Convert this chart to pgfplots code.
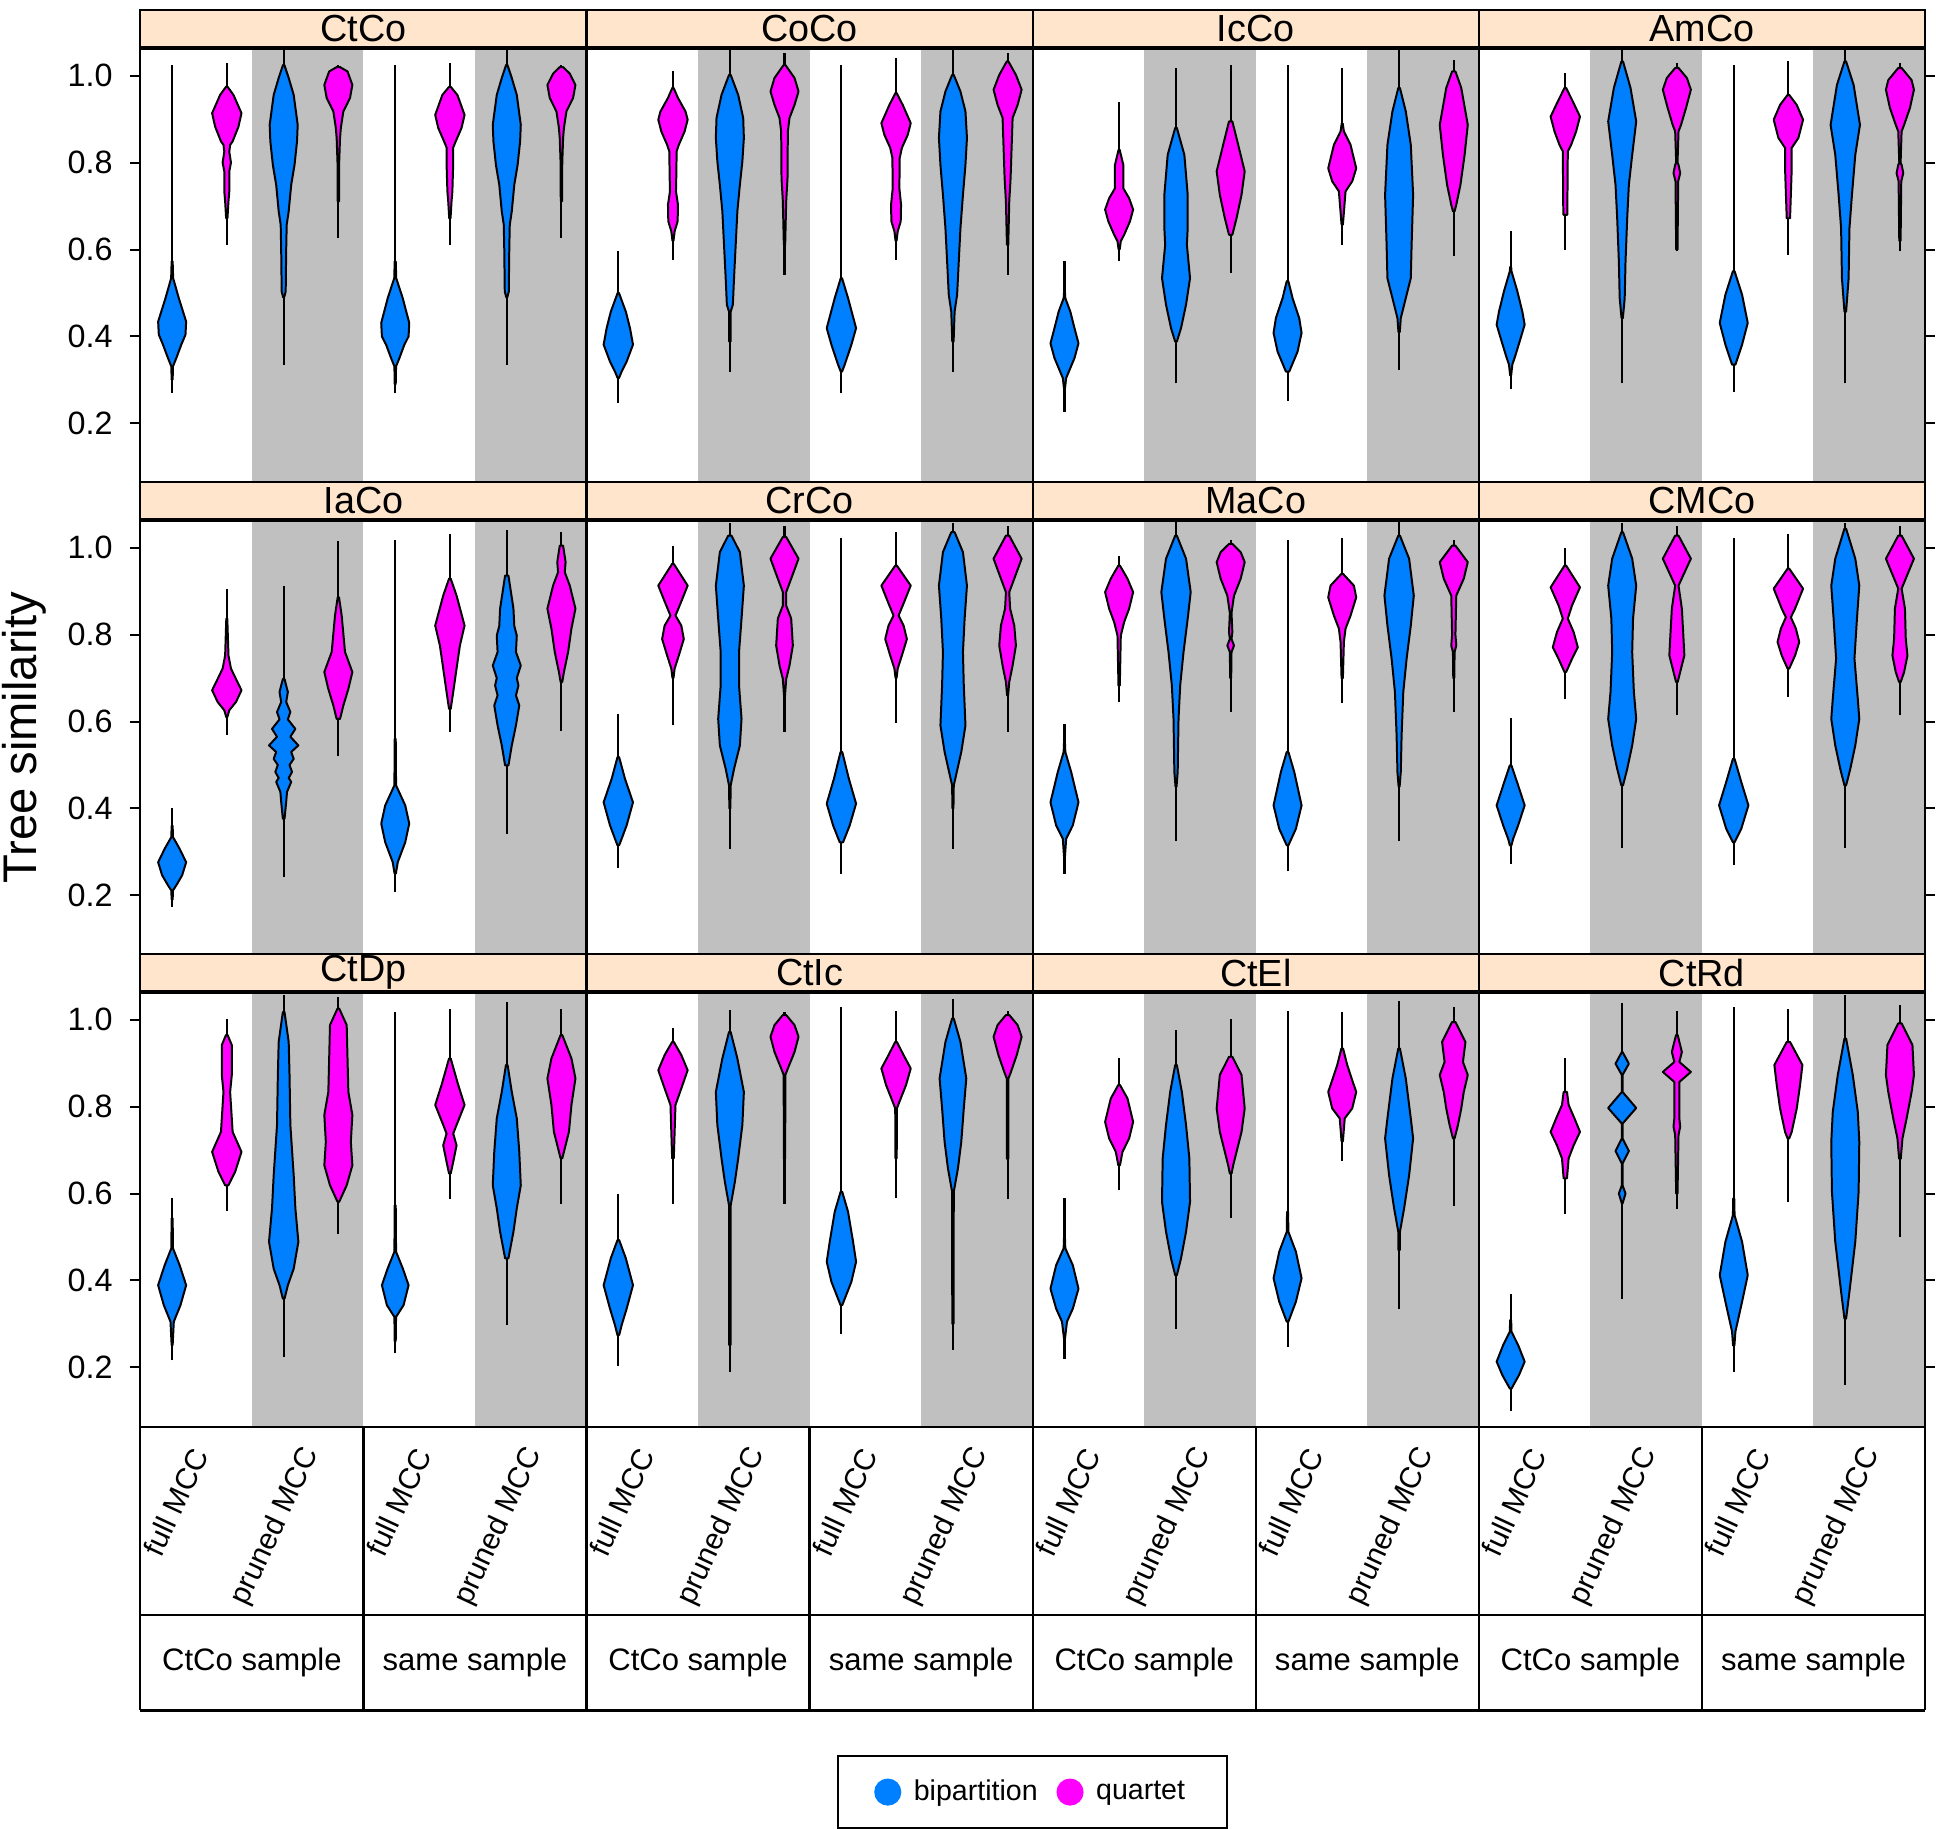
\documentclass[border=0pt]{standalone}
\usepackage{pgfplots}
\pgfplotsset{compat=1.18}
\usepgfplotslibrary{groupplots}
\usepackage{fontspec}
\setmainfont{Liberation Sans}
\definecolor{vblue}{HTML}{0080FF}
\definecolor{vmag}{HTML}{FF00FF}
\definecolor{greybg}{HTML}{C0C0C0}
\definecolor{stripbg}{HTML}{FFE5CC}

\def\vk{0.0015}
\newcommand\V[5]{%
  \pgfmathsetmacro\vc{#1}%
  \gdef\vR{}\gdef\vL{}%
  \foreach \yy/\ww in {#5}{%
    \pgfmathsetmacro\xr{\vc+\ww*\vk}%
    \pgfmathsetmacro\xl{\vc-\ww*\vk}%
    \xdef\vR{\vR(\xr,\yy)}%
    \xdef\vL{(\xl,\yy)\vL}%
  }%
  \edef\vcmd{%
    \noexpand\addplot[forget plot,line width=0.85pt,black] coordinates {(\vc,#3) (\vc,#4)};%
    \noexpand\addplot[forget plot,line width=0.8pt,line join=round,draw=black,fill=#2] coordinates {\vR\vL} -- cycle;%
  }%
  \vcmd
}
\newcommand\B[4]{\V{#1-0.215}{vblue}{#2}{#3}{#4}}
\newcommand\M[4]{\V{#1+0.275}{vmag}{#2}{#3}{#4}}
\newcommand\G{%
  \addplot[forget plot,fill=greybg,draw=none] coordinates {(1.5,0) (2.5,0) (2.5,1.2) (1.5,1.2)} -- cycle;
  \addplot[forget plot,fill=greybg,draw=none] coordinates {(3.5,0) (4.5,0) (4.5,1.2) (3.5,1.2)} -- cycle;
}
\newcommand\Deco{%
  \draw[line width=0.9pt] (axis description cs:0,0) -- ++(0pt,-114pt);
  \draw[line width=0.9pt] (axis description cs:0.5,0) -- ++(0pt,-114pt);
  \draw[line width=0.9pt] (axis description cs:1,0) -- ++(0pt,-114pt);
  \draw[line width=0.9pt] (axis description cs:0,0) ++(0pt,-75.5pt) -- ++(179.6pt,0pt);
  \draw[line width=0.9pt] (axis description cs:0,0) ++(0pt,-114pt) -- ++(179.6pt,0pt);
  \node[font=\fontsize{12.5}{12.5}\selectfont,yshift=-94.75pt] at (axis description cs:0.25,0) {CtCo sample};
  \node[font=\fontsize{12.5}{12.5}\selectfont,yshift=-94.75pt] at (axis description cs:0.75,0) {same sample};
}

\pgfplotsset{
  panel/.style={width=179.6pt,height=175pt,scale only axis,
    xmin=0.5,xmax=4.5,ymin=0.062,ymax=1.063,axis on top,
    axis line style={line width=0.9pt},xtick=\empty,ytick=\empty,
    tick align=outside,major tick length=4pt,tick style={line width=0.8pt,black},
    title style={at={(0.5,1)},anchor=south,yshift=-6pt,draw=black,line width=0.9pt,fill=stripbg,
      minimum width=179.6pt,minimum height=15pt,inner sep=0pt,
      font=\fontsize{15.2}{15.2}\selectfont}},
  leftcol/.style={ytick={0.2,0.4,0.6,0.8,1.0},yticklabels={0.2,0.4,0.6,0.8,1.0},ytick pos=left,
    yticklabel style={font=\fontsize{13}{13}\selectfont,inner sep=0pt,xshift=-7pt}},
  rightcol/.style={ytick={0.2,0.4,0.6,0.8,1.0},ytick pos=right,yticklabels={}},
  bottomrow/.style={xtick={1,2,3,4},xticklabels={full MCC,pruned MCC,full MCC,pruned MCC},
    xtick style={draw=none},
    xticklabel style={xshift=3pt,yshift=-2pt,rotate=65,anchor=east,font=\fontsize{12}{12}\selectfont},
    clip mode=individual},
}

\begin{document}
\begin{tikzpicture}
\begin{groupplot}[group style={group size=4 by 3,horizontal sep=0pt,vertical sep=15pt},panel]
% ---------------- row 1
\nextgroupplot[title=CtCo,leftcol]
\G
\B{1}{0.269}{1.024}{0.573/3,0.534/6,0.488/40,0.434/84,0.404/80,0.381/55,0.35/25,0.331/5,0.30/3}
\M{1}{0.611}{1.029}{0.975/4,0.956/40,0.914/88,0.883/70,0.849/35,0.841/20,0.825/15,0.80/25,0.78/15,0.734/15,0.711/10,0.672/4}
\B{2}{0.335}{1.060}{1.025/4,0.995/30,0.956/60,0.887/84,0.849/80,0.795/65,0.749/45,0.688/30,0.657/18,0.60/15,0.503/12,0.49/3}
\M{2}{0.626}{1.025}{1.02/10,1.010/55,0.979/84,0.949/70,0.918/30,0.880/15,0.856/10,0.80/5,0.711/4}
\B{3}{0.269}{1.024}{0.573/3,0.534/6,0.488/45,0.431/84,0.40/80,0.381/55,0.35/25,0.331/5,0.29/3}
\M{3}{0.611}{1.029}{0.975/4,0.956/45,0.910/88,0.880/70,0.849/35,0.835/20,0.80/20,0.734/15,0.711/10,0.672/4}
\B{4}{0.335}{1.060}{1.025/4,0.995/30,0.956/60,0.887/84,0.849/80,0.795/65,0.749/45,0.688/30,0.657/18,0.60/15,0.503/12,0.49/3}
\M{4}{0.626}{1.025}{1.02/10,1.005/50,0.979/84,0.949/70,0.918/30,0.880/15,0.856/10,0.80/5,0.711/4}

\nextgroupplot[title=CoCo]
\G
\B{1}{0.246}{0.596}{0.50/4,0.457/45,0.419/70,0.381/88,0.342/50,0.319/20,0.304/4}
\M{1}{0.576}{1.012}{0.972/4,0.949/30,0.918/75,0.899/88,0.872/70,0.841/35,0.826/22,0.77/20,0.734/18,0.703/30,0.665/28,0.642/10,0.62/3}
\B{2}{0.319}{1.060}{1.002/5,0.956/50,0.903/80,0.857/84,0.803/75,0.749/60,0.688/45,0.611/35,0.534/25,0.473/18,0.457/5,0.388/4}
\M{2}{0.542}{1.052}{1.025/5,0.995/60,0.964/84,0.933/60,0.903/30,0.872/20,0.765/18,0.711/10,0.611/4}
\B{3}{0.269}{1.025}{0.534/4,0.488/40,0.419/88,0.381/60,0.335/20,0.319/4}
\M{3}{0.576}{1.042}{0.960/4,0.933/40,0.891/88,0.864/70,0.834/35,0.811/22,0.741/20,0.703/30,0.665/28,0.642/10,0.62/3}
\B{4}{0.319}{1.060}{1.002/5,0.964/45,0.918/75,0.857/84,0.795/75,0.726/60,0.649/45,0.573/35,0.496/25,0.457/10,0.388/4}
\M{4}{0.542}{1.052}{1.033/5,1.002/50,0.968/84,0.933/60,0.903/30,0.765/18,0.711/10,0.611/4}

\nextgroupplot[title=IcCo]
\G
\B{1}{0.227}{0.574}{0.50/3,0.488/5,0.457/35,0.419/60,0.384/84,0.350/60,0.327/35,0.304/10,0.28/3}
\M{1}{0.574}{0.939}{0.83/3,0.795/25,0.741/25,0.718/60,0.692/84,0.665/65,0.634/30,0.619/10,0.60/3}
\B{2}{0.292}{1.019}{0.880/5,0.818/50,0.726/70,0.649/70,0.611/65,0.534/84,0.473/60,0.419/30,0.388/5}
\M{2}{0.546}{1.025}{0.895/10,0.841/45,0.780/84,0.726/65,0.672/35,0.634/10}
\B{3}{0.252}{1.024}{0.527/5,0.488/30,0.442/70,0.408/84,0.365/60,0.319/10}
\M{3}{0.611}{1.019}{0.89/3,0.872/10,0.841/50,0.787/84,0.757/60,0.734/20,0.657/4}
\B{4}{0.323}{1.060}{0.972/5,0.918/40,0.841/70,0.726/84,0.611/75,0.534/70,0.488/40,0.442/10,0.41/4}
\M{4}{0.584}{1.037}{1.010/10,0.972/45,0.887/84,0.818/65,0.749/40,0.703/15,0.688/5}

\nextgroupplot[title=AmCo,rightcol]
\G
\B{1}{0.279}{0.642}{0.56/3,0.550/5,0.504/40,0.457/70,0.427/84,0.396/60,0.358/30,0.335/10,0.31/3}
\M{1}{0.599}{1.006}{0.972/5,0.941/45,0.906/88,0.872/65,0.841/35,0.826/15,0.680/12}
\B{2}{0.292}{1.060}{1.033/5,0.972/50,0.895/84,0.818/60,0.749/40,0.672/30,0.573/20,0.488/15,0.442/4}
\M{2}{0.596}{1.029}{1.018/10,0.995/60,0.968/84,0.926/55,0.887/25,0.872/10,0.80/4,0.795/10,0.776/20,0.757/8,0.60/4}
\B{3}{0.273}{1.024}{0.550/5,0.496/50,0.431/84,0.381/50,0.335/10}
\M{3}{0.588}{1.035}{0.956/5,0.933/50,0.899/88,0.857/60,0.834/20,0.787/20,0.672/10}
\B{4}{0.292}{1.060}{1.033/5,0.979/50,0.887/88,0.818/60,0.726/40,0.649/25,0.534/20,0.457/5}
\M{4}{0.596}{1.029}{1.018/10,0.990/70,0.968/84,0.926/60,0.887/25,0.872/10,0.80/4,0.795/10,0.776/20,0.757/8,0.62/4}
% ---------------- row 2
\nextgroupplot[title=IaCo,leftcol,ylabel={Tree similarity},
  ylabel style={at={(axis description cs:-0.26,0.5)},anchor=center,inner sep=0pt,font=\fontsize{19}{19}\selectfont}]
\G
\B{1}{0.173}{0.401}{0.36/3,0.334/5,0.307/45,0.276/84,0.246/60,0.223/25,0.211/5,0.19/3}
\M{1}{0.570}{0.906}{0.837/3,0.752/10,0.722/25,0.698/55,0.672/88,0.645/55,0.626/15,0.61/3}
\B{2}{0.242}{0.913}{0.698/5,0.668/25,0.645/15,0.622/40,0.605/25,0.583/70,0.565/40,0.545/88,0.530/45,0.514/60,0.500/35,0.484/50,0.470/30,0.461/45,0.438/20,0.415/15,0.376/5}
\M{2}{0.520}{1.015}{0.886/4,0.844/20,0.760/40,0.714/84,0.675/60,0.637/30,0.606/10}
\B{3}{0.207}{1.017}{0.56/3,0.453/5,0.407/60,0.365/84,0.322/60,0.276/15,0.25/4}
\M{3}{0.576}{1.032}{0.929/5,0.890/40,0.821/88,0.775/60,0.722/40,0.668/20,0.629/5}
\B{4}{0.342}{1.040}{0.936/10,0.860/40,0.820/45,0.798/60,0.760/55,0.729/84,0.70/60,0.683/70,0.66/55,0.637/75,0.591/55,0.545/30,0.499/10}
\M{4}{0.579}{1.036}{1.005/10,0.967/25,0.944/20,0.913/50,0.860/84,0.814/60,0.760/40,0.714/15,0.691/5}

\nextgroupplot[title=CrCo]
\G
\B{1}{0.262}{0.618}{0.518/5,0.468/40,0.414/88,0.361/50,0.330/20,0.315/5}
\M{1}{0.591}{1.005}{0.963/5,0.913/88,0.867/40,0.844/15,0.821/50,0.790/65,0.752/35,0.722/10,0.70/3}
\B{2}{0.307}{1.058}{1.028/10,0.990/60,0.913/84,0.837/70,0.760/55,0.683/55,0.606/70,0.545/60,0.491/25,0.453/5,0.40/3}
\M{2}{0.576}{1.050}{1.025/10,0.975/84,0.929/40,0.898/10,0.867/10,0.837/40,0.775/50,0.729/30,0.698/10,0.66/3}
\B{3}{0.249}{1.022}{0.530/5,0.468/45,0.411/88,0.361/50,0.322/10}
\M{3}{0.597}{1.036}{0.959/5,0.913/88,0.867/40,0.844/15,0.821/45,0.790/65,0.752/35,0.722/10,0.70/3}
\B{4}{0.307}{1.058}{1.036/10,0.990/60,0.913/84,0.837/70,0.760/60,0.683/65,0.591/75,0.530/50,0.453/5,0.40/3}
\M{4}{0.576}{1.050}{1.028/10,0.975/84,0.929/40,0.898/10,0.860/15,0.821/40,0.775/50,0.729/30,0.691/10,0.66/3}

\nextgroupplot[title=MaCo]
\G
\B{1}{0.249}{0.595}{0.55/3,0.530/5,0.484/40,0.414/84,0.361/50,0.330/10,0.29/3}
\M{1}{0.646}{0.982}{0.959/5,0.929/50,0.898/84,0.860/60,0.829/30,0.798/10,0.683/4}
\B{2}{0.326}{1.059}{1.028/5,0.975/60,0.898/88,0.837/70,0.760/45,0.683/25,0.606/15,0.484/10,0.45/3}
\M{2}{0.623}{1.019}{1.009/10,0.990/60,0.967/84,0.929/60,0.890/20,0.850/5,0.806/10,0.790/5,0.775/20,0.760/5,0.70/3}
\B{3}{0.255}{1.019}{0.530/5,0.484/40,0.407/84,0.353/50,0.315/5}
\M{3}{0.642}{1.022}{0.940/5,0.913/70,0.886/84,0.844/50,0.814/20,0.783/10,0.70/4}
\B{4}{0.326}{1.059}{1.028/5,0.975/60,0.890/88,0.821/70,0.745/45,0.668/25,0.568/15,0.484/10,0.45/3}
\M{4}{0.623}{1.019}{1.005/10,0.967/84,0.929/60,0.890/15,0.80/10,0.775/15,0.760/5,0.70/3}

\nextgroupplot[title=CMCo,rightcol]
\G
\B{1}{0.272}{0.608}{0.499/5,0.453/45,0.407/84,0.361/45,0.330/15,0.315/5}
\M{1}{0.651}{0.999}{0.959/5,0.909/88,0.867/40,0.837/15,0.806/50,0.771/75,0.744/40,0.714/5}
\B{2}{0.309}{1.058}{1.036/5,0.975/60,0.913/84,0.837/65,0.760/60,0.668/70,0.606/84,0.545/60,0.491/30,0.453/5}
\M{2}{0.614}{1.050}{1.028/10,0.975/84,0.913/10,0.860/30,0.790/40,0.752/45,0.722/25,0.691/5}
\B{3}{0.269}{1.022}{0.514/5,0.461/45,0.407/88,0.353/45,0.322/5}
\M{3}{0.656}{1.032}{0.952/5,0.906/88,0.860/40,0.840/15,0.814/45,0.783/65,0.752/40,0.722/5}
\B{4}{0.309}{1.058}{1.044/5,0.975/60,0.913/84,0.837/70,0.745/55,0.652/75,0.606/84,0.545/60,0.491/30,0.453/5}
\M{4}{0.614}{1.050}{1.028/10,0.975/84,0.906/10,0.860/30,0.790/35,0.752/45,0.714/25,0.691/5}
% ---------------- row 3
\nextgroupplot[title=CtDp,leftcol,bottomrow]
\G
\B{1}{0.216}{0.589}{0.543/3,0.474/5,0.435/45,0.389/84,0.343/50,0.305/10,0.251/3}
\M{1}{0.560}{1.003}{0.965/5,0.942/30,0.873/30,0.834/20,0.742/35,0.696/88,0.650/50,0.619/10}
\B{2}{0.224}{1.057}{1.018/5,0.949/30,0.873/35,0.758/40,0.642/60,0.566/70,0.489/88,0.427/60,0.389/25,0.358/5}
\M{2}{0.508}{1.053}{1.026/5,0.988/50,0.911/55,0.834/60,0.781/84,0.719/75,0.665/84,0.619/50,0.581/5}
\B{3}{0.232}{1.017}{0.573/3,0.466/5,0.428/45,0.389/80,0.343/50,0.316/5,0.26/3}
\M{3}{0.587}{1.026}{0.911/5,0.850/50,0.804/88,0.758/40,0.738/20,0.711/40,0.673/20,0.646/5}
\B{4}{0.297}{1.040}{0.896/5,0.834/30,0.773/60,0.696/75,0.619/84,0.566/60,0.512/40,0.451/10}
\M{4}{0.577}{1.026}{0.965/5,0.911/60,0.865/84,0.804/60,0.742/45,0.704/20,0.681/5}
\Deco

\nextgroupplot[title=CtIc,bottomrow]
\G
\B{1}{0.203}{0.598}{0.493/5,0.451/45,0.389/88,0.335/50,0.297/20,0.274/5}
\M{1}{0.577}{0.982}{0.949/5,0.919/50,0.884/88,0.842/50,0.804/15,0.681/5}
\B{2}{0.190}{1.022}{0.972/5,0.911/45,0.834/84,0.758/75,0.681/50,0.627/30,0.573/5,0.251/4}
\M{2}{0.577}{1.017}{1.011/10,0.988/60,0.961/84,0.926/60,0.888/20,0.873/5,0.68/4}
\B{3}{0.276}{1.030}{0.604/5,0.558/40,0.489/70,0.443/88,0.397/60,0.343/5}
\M{3}{0.590}{1.020}{0.949/5,0.919/45,0.888/88,0.850/60,0.811/20,0.796/5,0.681/4}
\B{4}{0.240}{1.049}{1.003/5,0.949/45,0.865/80,0.796/65,0.719/50,0.658/30,0.604/5,0.30/4}
\M{4}{0.587}{1.020}{1.011/10,0.988/60,0.961/84,0.919/55,0.880/20,0.865/5,0.68/4}
\Deco

\nextgroupplot[title=CtEl,bottomrow,
  legend style={at={(axis description cs:0,0)},anchor=north,yshift=-132pt,
    draw=black,line width=0.9pt,inner xsep=15pt,inner ysep=7.5pt,
    font=\fontsize{11.5}{11.5}\selectfont,
    /tikz/every odd column/.append style={column sep=3.5pt},
    /tikz/every even column/.append style={column sep=6pt}},
  legend columns=2]
\addlegendimage{only marks,mark=*,mark size=5pt,mark options={draw=vblue,fill=vblue}}
\addlegendentry{bipartition}
\addlegendimage{only marks,mark=*,mark size=5pt,mark options={draw=vmag,fill=vmag}}
\addlegendentry{quartet}
\G
\B{1}{0.220}{0.589}{0.497/3,0.474/5,0.435/50,0.381/84,0.335/50,0.305/15,0.266/3}
\M{1}{0.608}{0.913}{0.850/5,0.819/50,0.765/84,0.727/60,0.696/20,0.665/5}
\B{2}{0.288}{0.976}{0.896/5,0.834/35,0.758/60,0.681/80,0.581/84,0.512/60,0.451/30,0.412/5}
\M{2}{0.544}{1.003}{0.915/10,0.873/65,0.796/84,0.742/65,0.696/35,0.665/15,0.646/5}
\B{3}{0.247}{1.020}{0.558/3,0.512/5,0.466/50,0.405/84,0.351/50,0.305/5}
\M{3}{0.675}{1.017}{0.934/5,0.896/30,0.861/60,0.834/84,0.796/60,0.773/15,0.72/4}
\B{4}{0.334}{1.043}{0.934/5,0.865/40,0.773/70,0.727/84,0.642/60,0.566/30,0.512/5,0.47/4}
\M{4}{0.572}{1.030}{0.995/10,0.949/70,0.903/55,0.873/84,0.834/60,0.796/45,0.758/25,0.727/5}
\Deco

\nextgroupplot[title=CtRd,rightcol,bottomrow]
\G
\B{1}{0.099}{0.368}{0.309/3,0.282/5,0.251/45,0.213/84,0.182/50,0.151/5}
\M{1}{0.554}{0.913}{0.834/10,0.804/20,0.773/55,0.742/88,0.711/50,0.681/20,0.635/10}
\B{2}{0.357}{1.038}{0.926/2,0.899/40,0.873/2,0.834/2,0.797/84,0.761/2,0.727/2,0.698/40,0.669/2,0.619/2,0.600/20,0.577/2}
\M{2}{0.564}{1.020}{0.965/5,0.926/30,0.903/15,0.880/84,0.857/15,0.773/15,0.754/20,0.735/10,0.60/4}
\B{3}{0.190}{1.030}{0.589/3,0.550/5,0.489/50,0.412/84,0.351/50,0.282/10,0.25/4}
\M{3}{0.581}{1.026}{0.949/10,0.896/84,0.850/70,0.796/50,0.742/20,0.727/5}
\B{4}{0.160}{1.058}{0.957/5,0.873/45,0.788/75,0.719/84,0.604/80,0.489/60,0.374/25,0.312/5}
\M{4}{0.500}{1.034}{0.992/10,0.942/75,0.873/84,0.834/70,0.773/40,0.727/15,0.68/5}
\Deco
\end{groupplot}
\path (group c1r1.north west) ++(-56.5pt,19.5pt) coordinate (TL);
\path (group c4r3.south east) ++(9.2pt,-159.8pt) coordinate (BR);
\path (TL) rectangle (BR);
\end{tikzpicture}
\end{document}
